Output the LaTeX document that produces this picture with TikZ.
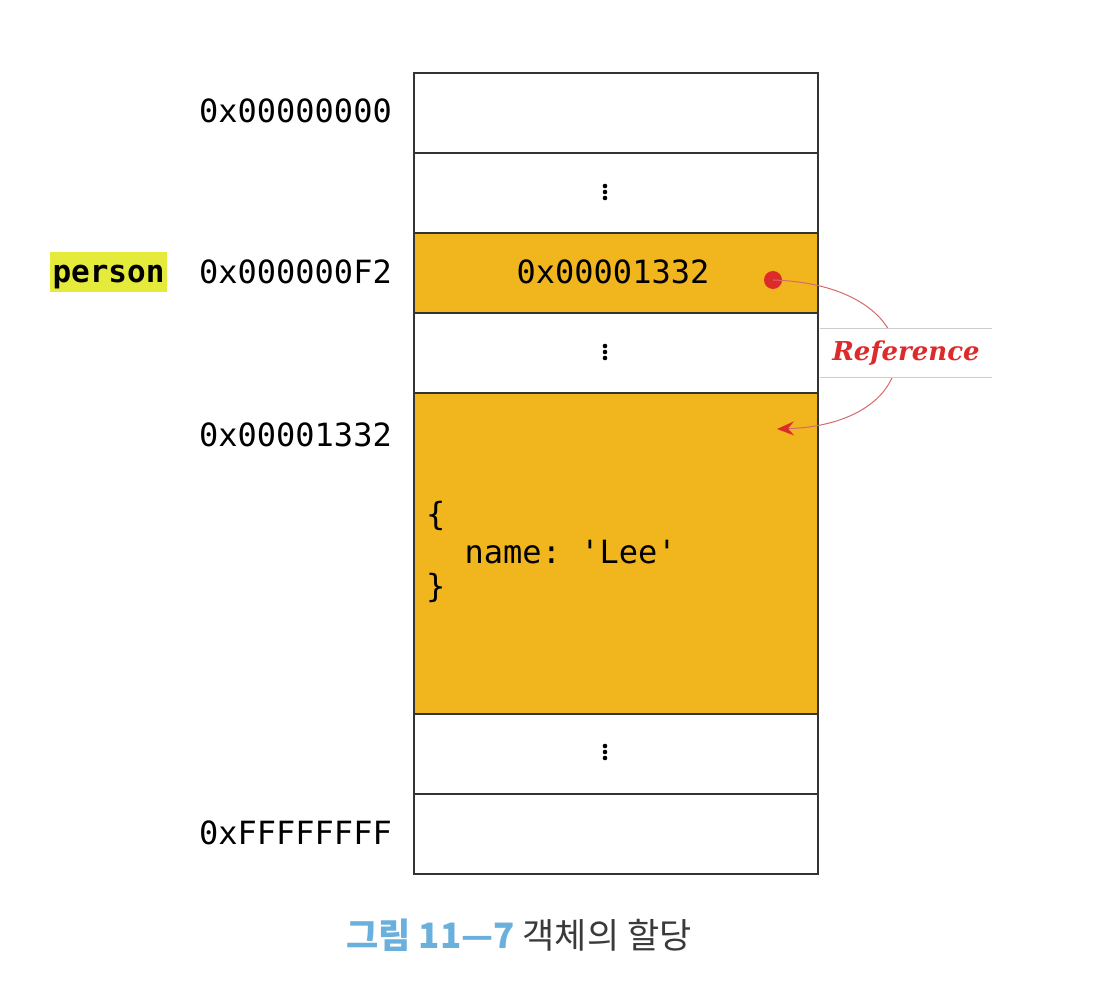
\documentclass[tikz,border=0pt]{standalone}
\usepackage{fontspec}
\setmonofont{DejaVu Sans Mono}
\newfontfamily\cjk{Noto Sans CJK KR}
\newfontfamily\refserif{DejaVu Serif}
\usetikzlibrary{arrows.meta}
\definecolor{memorange}{HTML}{F1B61E}
\definecolor{hilite}{HTML}{E4EB3A}
\definecolor{refred}{HTML}{DD2B2B}
\definecolor{curvered}{HTML}{D46A6A}
\definecolor{capblue}{HTML}{6AB0DC}
\definecolor{capgray}{HTML}{3A3A3A}
\tikzset{
  cell/.style={draw=black!80, line width=1.6pt, minimum width=404pt, inner sep=0pt, anchor=north west},
  smallcell/.style={cell, minimum height=80pt},
  addr/.style={anchor=east, inner sep=0pt, font=\ttfamily\fontsize{32}{38}\selectfont},
  codetxt/.style={anchor=west, inner sep=0pt, font=\ttfamily\fontsize{32}{38}\selectfont},
  vdot/.style={circle, fill=black, inner sep=0pt, minimum size=4.6pt},
}
\begin{document}
\begin{tikzpicture}[x=1pt,y=-1pt]
\useasboundingbox[fill=white] (0,0) rectangle (1120,1000);
% memory cells
\node[smallcell] (c1) at (413,72) {};
\node[smallcell] (c2) at (413,152) {};
\node[smallcell, fill=memorange] (c3) at (413,232) {};
\node[smallcell] (c4) at (413,312) {};
\node[cell, fill=memorange, minimum height=321pt] (c5) at (413,392) {};
\node[smallcell] (c6) at (413,713) {};
\node[smallcell] (c7) at (413,793) {};
% vertical dots
\foreach \y/\n in {192/a,352/b,752/c}{
  \node[vdot] (d\n1) at (605,\y-6) {};
  \node[vdot] (d\n2) at (605,\y) {};
  \node[vdot] (d\n3) at (605,\y+6) {};
}
% addresses
\node[addr] (a1) at (392,111) {0x00000000};
\node[addr] (a2) at (392,272) {0x000000F2};
\node[addr] (a3) at (392,435) {0x00001332};
\node[addr] (a4) at (392,833) {0xFFFFFFFF};
% person
\node[fill=hilite, inner sep=0pt, minimum width=117pt, minimum height=40pt,
      text height=22pt, text depth=0pt,
      font=\ttfamily\bfseries\fontsize{31}{36}\selectfont] (person) at (108.5,272) {person};
% contents
\node[inner sep=0pt, font=\ttfamily\fontsize{32}{38}\selectfont] (val) at (613,272) {0x00001332};
\node[codetxt] (ob1) at (426,516) {\{};
\node[codetxt] (ob2) at (464.5,552) {name: 'Lee'};
\node[codetxt] (ob3) at (426,588) {\}};
% reference
\node[circle, fill=refred, inner sep=0pt, minimum size=18pt] (dot) at (773,280) {};
\coordinate (tip) at (777,429);
\draw[curvered, line width=1pt, -{Stealth[length=17pt,width=14pt,inset=6pt,color=refred,fill=refred]}]
  (dot.center) .. controls (935,285) and (935,424) .. (tip);
\node[fill=white, inner sep=0pt, minimum width=172pt, minimum height=48pt,
      font=\refserif\bfseries\itshape\fontsize{26}{30}\selectfont, text=refred] (ref) at (906,353) {Reference};
\draw[black!20, line width=1pt] (ref.north west) -- (ref.north east);
\draw[black!20, line width=1pt] (ref.south west) -- (ref.south east);
% caption
\node[inner sep=0pt, font=\cjk\fontsize{35}{40}\selectfont] (cap) at (519,935)
  {{\bfseries\color{capblue}그림 11—7} \color{capgray}객체의 할당};
\end{tikzpicture}
\end{document}
